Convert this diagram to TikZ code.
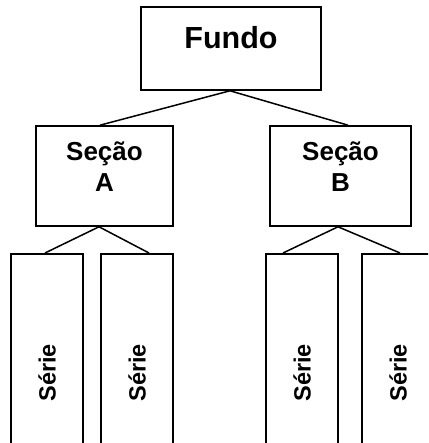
\documentclass[tikz,border=0pt]{standalone}
\usepackage{fontspec}
\setmainfont{Liberation Sans}
\usepackage{graphicx}
\usepackage{tikz}
\usetikzlibrary{positioning}

\begin{document}
\begin{tikzpicture}[x=1pt,y=1pt,
    caixa/.style={draw,line width=1.6pt,inner sep=0pt},
    serie/.style={caixa,minimum width=72pt,minimum height=238pt,
      font=\bfseries\fontsize{23.5}{28}\selectfont},
    ligacao/.style={line width=1.5pt},
    rotulo/.style={font=\bfseries\fontsize{26}{31}\selectfont,align=center}]
  \useasboundingbox (0,0) rectangle (428,443);
  \clip (0,0) rectangle (428,443);
  % caixas
  \node[caixa,minimum width=180pt,minimum height=83pt] (fundo) at (231,394.5) {};
  \node[font=\bfseries\fontsize{30.5}{36}\selectfont,anchor=base] (tfundo) at (fundo.center) {Fundo};
  \node[caixa,minimum width=137pt,minimum height=100pt] (secaoA) at (104.5,267) {};
  \node[rotulo] (tsecaoA) at ([yshift=9.3pt]secaoA.center) {Seção\\A};
  \node[caixa,minimum width=141pt,minimum height=100pt] (secaoB) at (340.5,267) {};
  \node[rotulo] (tsecaoB) at ([yshift=9.3pt]secaoB.center) {Seção\\B};
  \node[serie] (serie1) at (47,70.2) {\rotatebox{90}{Série}};
  \node[serie] (serie2) at (137,70.2) {\rotatebox{90}{Série}};
  \node[serie] (serie3) at (302,70.2) {\rotatebox{90}{Série}};
  \node[serie] (serie4) at (398,70.2) {\rotatebox{90}{Série}};
  % ligacoes
  \draw[ligacao] ([xshift=-1pt]fundo.south) -- ([xshift=-4.5pt]secaoA.north);
  \draw[ligacao] ([xshift=-1pt]fundo.south) -- ([xshift=7.5pt]secaoB.north);
  \draw[ligacao] ([xshift=-5.5pt]secaoA.south) -- ([xshift=-2pt]serie1.north);
  \draw[ligacao] ([xshift=-5.5pt]secaoA.south) -- ([xshift=12pt]serie2.north);
  \draw[ligacao] ([xshift=-2.5pt]secaoB.south) -- ([xshift=-19pt]serie3.north);
  \draw[ligacao] ([xshift=-2.5pt]secaoB.south) -- ([xshift=2pt]serie4.north);
\end{tikzpicture}
\end{document}
